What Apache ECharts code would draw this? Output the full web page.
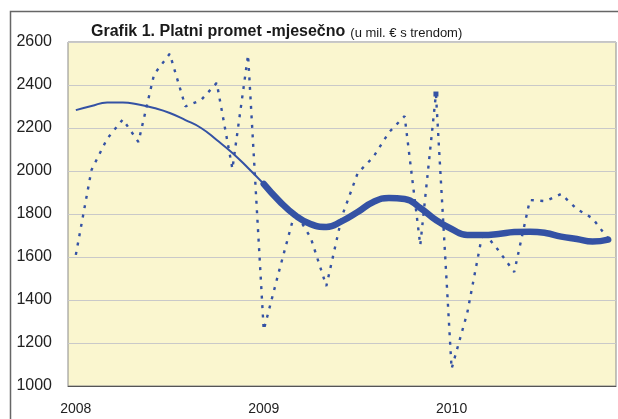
<!DOCTYPE html>
<html>
<head>
<meta charset="utf-8">
<script src="https://cdn.jsdelivr.net/npm/echarts@6/dist/echarts.min.js"></script>
<style>
  html, body { margin: 0; padding: 0; background: #fff; }
  #chart { width: 618px; height: 419px; }
</style>
</head>
<body>
<div id="chart"></div>
<script>
// mjeseci sij 2008 - stu 2010
const months = [
  "2008-01", "2008-02", "2008-03", "2008-04", "2008-05", "2008-06",
  "2008-07", "2008-08", "2008-09", "2008-10", "2008-11", "2008-12",
  "2009-01", "2009-02", "2009-03", "2009-04", "2009-05", "2009-06",
  "2009-07", "2009-08", "2009-09", "2009-10", "2009-11", "2009-12",
  "2010-01", "2010-02", "2010-03", "2010-04", "2010-05", "2010-06",
  "2010-07", "2010-08", "2010-09", "2010-10", "2010-11"
];

// platni promet, mil. EUR
const promet = [
  1610, 2005, 2150, 2240, 2135, 2450, 2545, 2300, 2330, 2410, 2010, 2540,
  1260, 1540, 1810, 1690, 1465, 1790, 1990, 2065, 2180, 2255, 1655, 2358,
  1080, 1340, 1720, 1630, 1530, 1865, 1860, 1893, 1823, 1780, 1685
];

// trend
const trend = [
  2283, 2302, 2319, 2319, 2309, 2293, 2270, 2237, 2200, 2144, 2084, 2014,
  1940, 1860, 1795, 1753, 1740, 1767, 1809, 1856, 1874, 1870, 1828, 1772,
  1730, 1702, 1702, 1707, 1716, 1718, 1712, 1695, 1684, 1672, 1681
];

const yTicks = [1000, 2600, 200]; // min, max, korak
const markedIdx = 23; // tocka s kvadraticem

const blue = "#3452a4";
const font = "'Liberation Sans', Arial, sans-serif";

// tanki dio trenda do sij 2009, debeli poslije
const trendThin = trend.map((v, i) => (i <= 12 ? v : null));
const trendThick = trend.map((v, i) => (i >= 12 ? v : null));
const prometData = promet.map((v, i) =>
  i === markedIdx ? { value: v, symbol: "rect", symbolSize: 5 } : v
);

const chart = echarts.init(document.getElementById("chart"));

chart.setOption({
  animation: false,
  backgroundColor: "#fff",
  textStyle: { fontFamily: font },
  title: {
    text: "{b|Grafik 1. Platni promet -mjesečno} {n|(u mil. € s trendom)}",
    left: 86,
    top: 17,
    textStyle: {
      fontWeight: "normal",
      rich: {
        b: { fontFamily: font, fontSize: 16, fontWeight: "bold", color: "#1a1a1a", lineHeight: 20 },
        n: { fontFamily: font, fontSize: 13, fontWeight: "normal", color: "#1a1a1a", lineHeight: 20, padding: [3, 0, 0, 0] }
      }
    }
  },
  graphic: [
    {
      type: "rect",
      silent: true,
      shape: { x: 10.5, y: 11.5, width: 700, height: 500 },
      style: { fill: "none", stroke: "#666", lineWidth: 1.5 }
    }
  ],
  grid: {
    left: 68,
    right: 2,
    top: 42,
    bottom: 33,
    show: true,
    backgroundColor: "#faf6cf",
    borderColor: "#8a8a8a",
    borderWidth: 1
  },
  xAxis: {
    type: "category",
    data: months,
    boundaryGap: true,
    axisLine: { lineStyle: { color: "#555", width: 1 } },
    axisTick: {
      length: 4,
      lineStyle: { color: "#555" },
      interval: (i) => i % 3 === 0
    },
    axisLabel: {
      interval: (i) => i % 12 === 0,
      formatter: (v) => v.slice(0, 4),
      fontSize: 14,
      color: "#222",
      margin: 16
    },
    splitLine: { show: false }
  },
  yAxis: {
    type: "value",
    min: yTicks[0],
    max: yTicks[1],
    interval: yTicks[2],
    axisLine: { show: false },
    axisTick: { show: false },
    axisLabel: { fontSize: 16, color: "#222", margin: 16, formatter: (v) => String(v) },
    splitLine: { lineStyle: { color: "#c9c9c9", width: 1 } }
  },
  series: [
    {
      name: "promet",
      type: "line",
      data: prometData,
      symbol: "none",
      itemStyle: { color: blue },
      lineStyle: { color: blue, width: 2.4, type: [3, 6.5] },
      z: 2
    },
    {
      name: "trend",
      type: "line",
      data: trendThin,
      smooth: 0.5,
      symbol: "none",
      lineStyle: { color: blue, width: 2 },
      z: 3
    },
    {
      name: "trend2",
      type: "line",
      data: trendThick,
      smooth: 0.5,
      symbol: "none",
      lineStyle: { color: blue, width: 6.5, cap: "round" },
      z: 3
    }
  ]
});
</script>
</body>
</html>
